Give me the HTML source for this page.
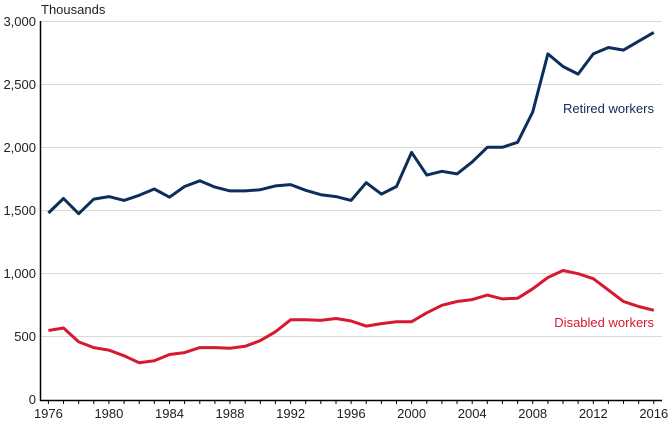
<!DOCTYPE html>
<html><head><meta charset="utf-8"><style>
body{margin:0;background:#fff;}
svg{display:block;font-family:"Liberation Sans",sans-serif;}
</style></head><body>
<svg id="c" width="671" height="423" viewBox="0 0 671 423">
<text x="41" y="14" font-size="13" fill="#222">Thousands</text>
<g stroke="#d9d9d9" stroke-width="1">
<line x1="40" x2="662" y1="21.5" y2="21.5"/>
<line x1="40" x2="662" y1="84.5" y2="84.5"/>
<line x1="40" x2="662" y1="147.5" y2="147.5"/>
<line x1="40" x2="662" y1="210.5" y2="210.5"/>
<line x1="40" x2="662" y1="273.5" y2="273.5"/>
<line x1="40" x2="662" y1="336.5" y2="336.5"/>
</g>
<g font-size="13" fill="#222" text-anchor="end">
<text x="36" y="26">3,000</text>
<text x="36" y="89">2,500</text>
<text x="36" y="152">2,000</text>
<text x="36" y="215">1,500</text>
<text x="36" y="278">1,000</text>
<text x="36" y="341">500</text>
<text x="36" y="404">0</text>
</g>
<line x1="40.5" x2="40.5" y1="21" y2="401" stroke="#000" stroke-width="1.5"/>
<line x1="40" x2="662" y1="400.5" y2="400.5" stroke="#000" stroke-width="1.5"/>
<g id="ticks" stroke="#000" stroke-width="1"></g>
<g id="xl" font-size="13" fill="#222" text-anchor="middle"></g>
<polyline id="r" fill="none" stroke="#0d2d5b" stroke-width="3" stroke-linejoin="round"/>
<polyline id="d" fill="none" stroke="#d7192f" stroke-width="3" stroke-linejoin="round"/>
<text x="654" y="113" font-size="13" fill="#0d2d5b" text-anchor="end">Retired workers</text>
<text x="654" y="327" font-size="13" fill="#d7192f" text-anchor="end">Disabled workers</text>
</svg>
<script>
var R=[1480,1595,1475,1590,1610,1580,1620,1670,1605,1690,1735,1685,1655,1655,1665,1695,1705,1660,1625,1610,1580,1720,1630,1690,1960,1780,1810,1790,1885,2000,2000,2040,2280,2740,2640,2580,2740,2790,2770,2840,2910];
var D=[550,570,460,415,395,350,295,310,360,375,415,415,410,425,470,540,635,635,630,645,625,585,605,620,620,690,750,780,795,830,800,805,880,970,1025,1000,960,870,780,740,710];
function X(i){return 48.4+i*15.135;}
function Y(v){return 400-v*0.12633;}
function pts(a){return a.map(function(v,i){return X(i).toFixed(1)+","+Y(v).toFixed(1)}).join(" ");}
document.getElementById("r").setAttribute("points",pts(R));
document.getElementById("d").setAttribute("points",pts(D));
var t="",l="";
for(var i=0;i<=40;i++){var x=X(i).toFixed(1);t+='<line x1="'+x+'" x2="'+x+'" y1="400" y2="404"/>';
if(i%4==0)l+='<text x="'+x+'" y="418">'+(1976+i)+'</text>';}
document.getElementById("ticks").innerHTML=t;
document.getElementById("xl").innerHTML=l;
</script>
</body></html>
